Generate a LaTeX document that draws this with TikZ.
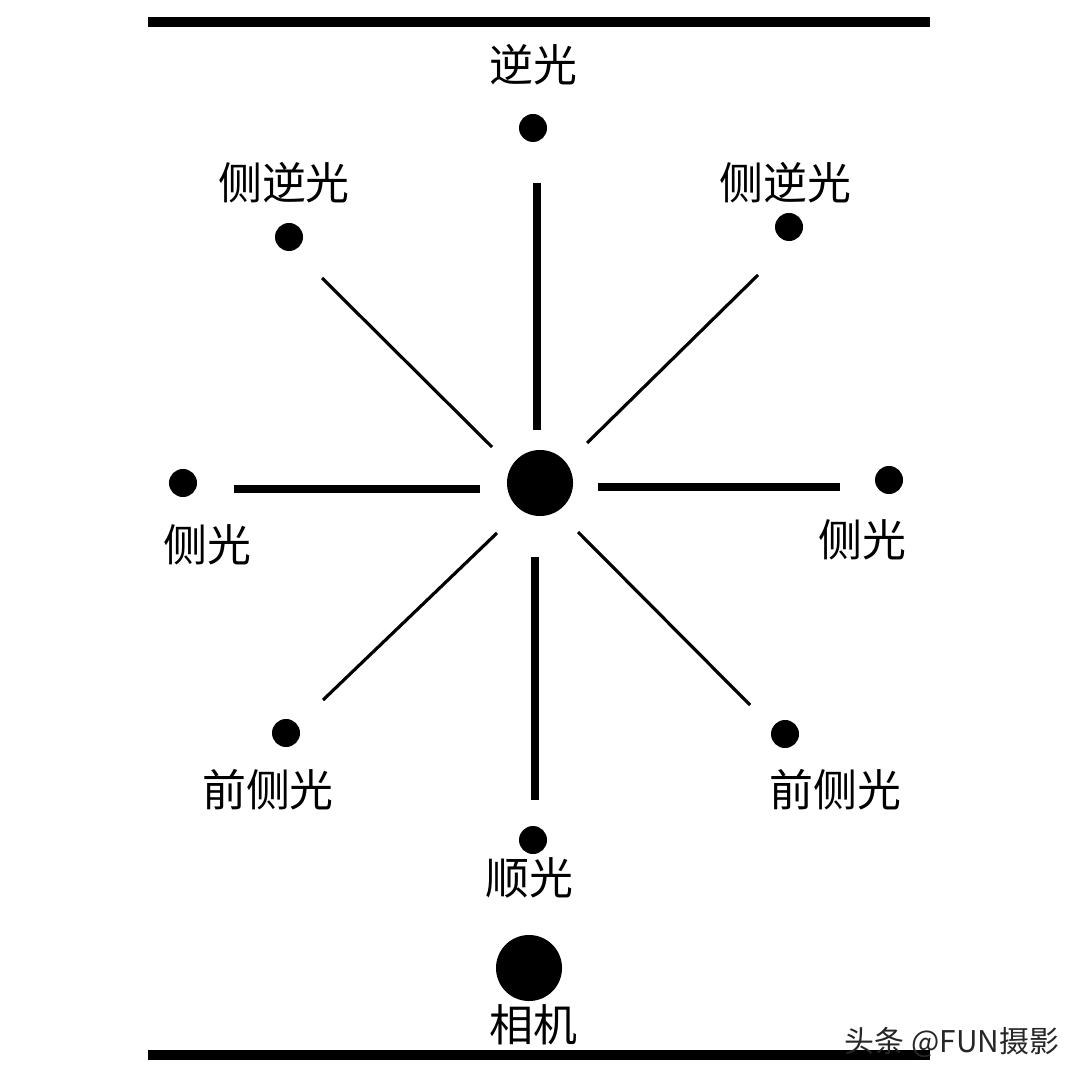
\documentclass[tikz,border=0pt]{standalone}
\usepackage{fontspec}
\newfontfamily\cjk{Noto Sans CJK SC}
\begin{document}
\begin{tikzpicture}[x=0.01cm,y=-0.01cm,
  dot/.style={circle,fill=black,inner sep=0pt,minimum size=0.28cm},
  big/.style={circle,fill=black,inner sep=0pt,minimum size=0.66cm},
  lbl/.style={font=\cjk\fontsize{12.5pt}{14pt}\selectfont},
  thickline/.style={line width=2.3pt},
  thinline/.style={line width=0.9pt}]
\useasboundingbox (0,0) rectangle (1080,1080);
\draw[line width=3pt] (148,22) -- (930,22);
\draw[line width=3pt] (148,1055) -- (930,1055);
\node[big] (c) at (540,483) {};
\node[big] (cam) at (529,968) {};
\node[dot] (t) at (533,128) {};
\node[dot] (tl) at (289,237) {};
\node[dot] (tr) at (789,227) {};
\node[dot] (l) at (183,483) {};
\node[dot] (r) at (889,480) {};
\node[dot] (bl) at (286,733) {};
\node[dot] (br) at (785,734) {};
\node[dot] (b) at (533,840) {};
\coordinate (a1) at (537,183); \coordinate (a2) at (537,430);
\coordinate (b1) at (234,489); \coordinate (b2) at (480,489);
\coordinate (c1) at (598,487); \coordinate (c2) at (840,487);
\coordinate (d1) at (535,557); \coordinate (d2) at (535,800);
\coordinate (e1) at (322,278); \coordinate (e2) at (492,447);
\coordinate (f1) at (758,275); \coordinate (f2) at (587,443);
\coordinate (g1) at (497,533); \coordinate (g2) at (323,700);
\coordinate (h1) at (578,532); \coordinate (h2) at (750,705);
\draw[thickline] (a1)--(a2); \draw[thickline] (b1)--(b2);
\draw[thickline] (c1)--(c2); \draw[thickline] (d1)--(d2);
\draw[thinline] (e1)--(e2); \draw[thinline] (f1)--(f2);
\draw[thinline] (g1)--(g2); \draw[thinline] (h1)--(h2);
\node[lbl] (n1) at (533,65) {逆光};
\node[lbl] (n2) at (284,183) {侧逆光};
\node[lbl] (n3) at (785,183) {侧逆光};
\node[lbl] (n4) at (207,545) {侧光};
\node[lbl] (n5) at (862,540) {侧光};
\node[lbl] (n6) at (268,790) {前侧光};
\node[lbl] (n7) at (835,790) {前侧光};
\node[lbl] (n8) at (529,878) {顺光};
\node[lbl] (n9) at (533,1025) {相机};
\node[font=\cjk\fontsize{8.5pt}{9pt}\selectfont,text=black!85] (wm) at (952,1042) {头条 @FUN摄影};
\end{tikzpicture}
\end{document}
